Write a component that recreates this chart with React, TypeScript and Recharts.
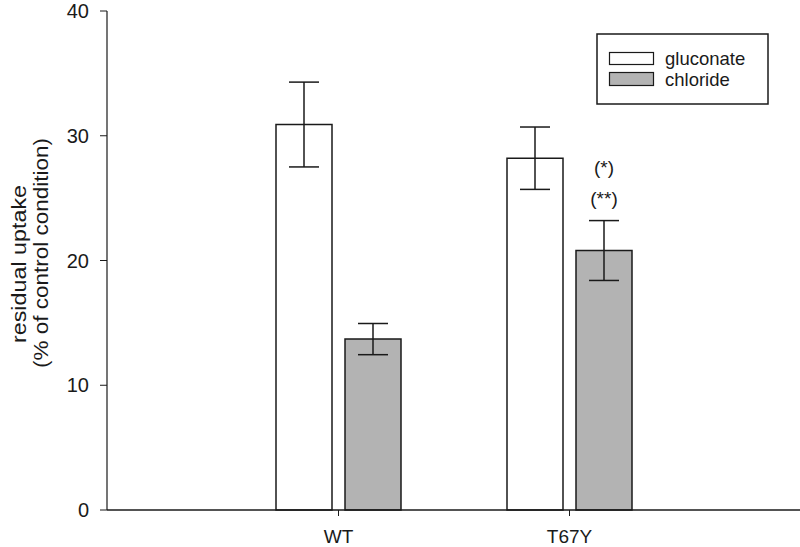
import React from 'react';
import { BarChart, Bar, XAxis, YAxis, ErrorBar, LabelList } from 'recharts';

const groups = ['WT', 'T67Y'];
const gluconate = [30.9, 28.2];
const gluconateErr = [3.4, 2.5];
const chloride = [13.7, 20.8];
const chlorideErr = [1.25, 2.4];
const notes = ['', '(*)|(**)'];
const yTicks = [0, 10, 20, 30, 40];

const data = groups.map((g, i) => ({
  group: g,
  gluconate: gluconate[i],
  gluconateErr: gluconateErr[i],
  chloride: chloride[i],
  chlorideErr: chlorideErr[i],
  note: notes[i],
}));

const FONT = '"Liberation Sans", Arial, sans-serif';
const GREY = '#b3b3b3';
const INK = '#1a1a1a';

function YLabel() {
  return (
    <g fill={INK} fontFamily={FONT} fontSize={21}>
      <text x={18} y={264} transform="rotate(-90 18 264)" textAnchor="middle" dominantBaseline="central"
        textLength={158} lengthAdjust="spacingAndGlyphs">
        residual uptake
      </text>
      <text x={40} y={253} transform="rotate(-90 40 253)" textAnchor="middle" dominantBaseline="central"
        textLength={230} lengthAdjust="spacingAndGlyphs">
        (% of control condition)
      </text>
    </g>
  );
}

function NoteLabel(props: any) {
  const { x, y, width, value } = props;
  if (!value) return null;
  const lines = String(value).split('|');
  const cx = x + width / 2;
  return (
    <g fill={INK} fontFamily={FONT} fontSize={19} textAnchor="middle">
      <text x={cx} y={y - 83} dominantBaseline="central">{lines[0]}</text>
      <text x={cx} y={y - 52} dominantBaseline="central">{lines[1]}</text>
    </g>
  );
}

function LegendBox() {
  return (
    <svg width={174} height={73} style={{ position: 'absolute', left: 596, top: 33 }}>
      <rect x={1} y={1} width={171} height={70} fill="#fff" stroke={INK} strokeWidth={1.5} />
      <rect x={13.5} y={19.5} width={44} height={12} fill="#fff" stroke={INK} strokeWidth={1.2} />
      <rect x={13.5} y={39.5} width={44} height={13} fill={GREY} stroke={INK} strokeWidth={1.2} />
      <g fill={INK} fontFamily={FONT} fontSize={18.5}>
        <text x={69} y={32}>gluconate</text>
        <text x={69} y={53}>chloride</text>
      </g>
    </svg>
  );
}

export default function App() {
  return (
    <div style={{ position: 'absolute', left: 0, top: 0, width: 800, height: 547, background: '#fff', fontFamily: FONT }}>
      <BarChart width={800} height={547} data={data} margin={{ top: 11, right: 0, bottom: 0, left: 0 }}
        barSize={56} barGap={13}>
        <XAxis dataKey="group" height={37} padding={{ left: 116, right: 115 }}
          axisLine={{ stroke: INK, strokeWidth: 1.5 }} tickLine={{ stroke: INK }} tickSize={6} tickMargin={14}
          tick={{ fill: INK, fontSize: 19, fontFamily: FONT }} />
        <YAxis domain={[0, 40]} ticks={yTicks} width={107} interval={0}
          axisLine={{ stroke: INK, strokeWidth: 1.2 }} tickLine={{ stroke: INK }} tickSize={7} tickMargin={11}
          tick={{ fill: INK, fontSize: 20, fontFamily: FONT }} label={{ content: () => <YLabel /> }} />
        <Bar dataKey="gluconate" fill="#fff" stroke={INK} strokeWidth={1.5} isAnimationActive={false}>
          <ErrorBar dataKey="gluconateErr" width={15} stroke={INK} strokeWidth={1.5} direction="y" />
        </Bar>
        <Bar dataKey="chloride" fill={GREY} stroke={INK} strokeWidth={1.5} isAnimationActive={false}>
          <ErrorBar dataKey="chlorideErr" width={15} stroke={INK} strokeWidth={1.5} direction="y" />
          <LabelList dataKey="note" content={NoteLabel} />
        </Bar>
      </BarChart>
      <LegendBox />
    </div>
  );
}
